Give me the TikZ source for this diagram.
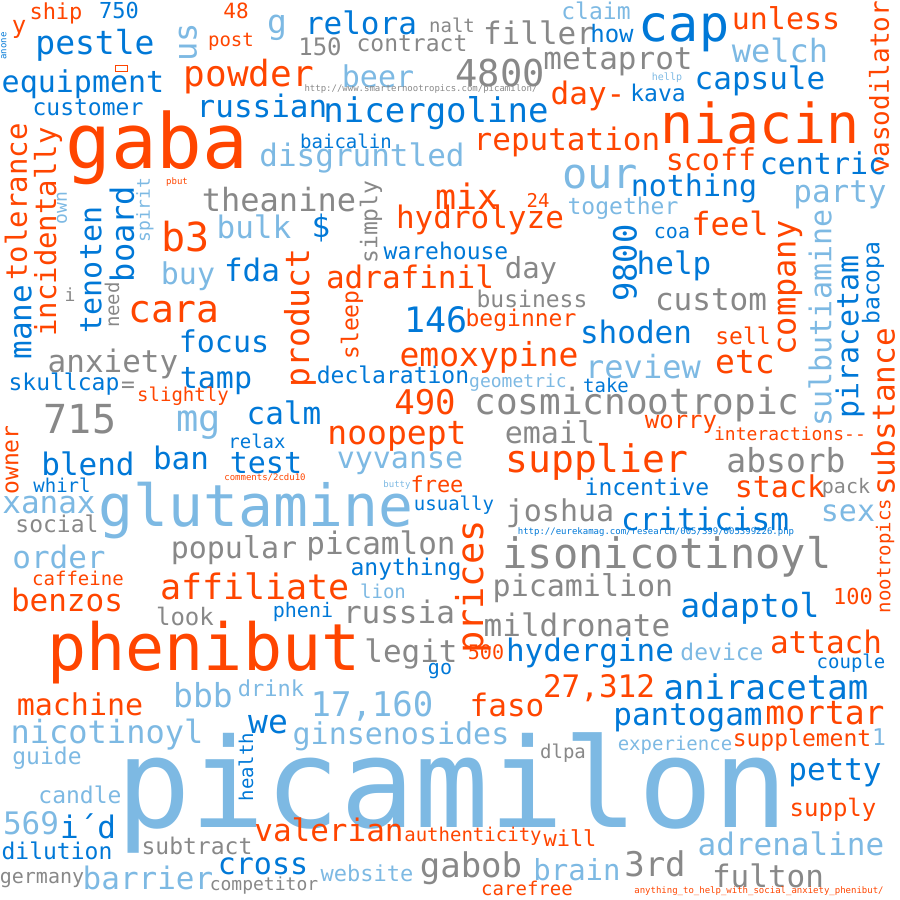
\documentclass[tikz,border=0pt]{standalone}
\usepackage{fontspec}
\setmainfont{DejaVu Sans Mono}
\usepackage{tikz}
\definecolor{wcorange}{HTML}{FF4500}
\definecolor{wcblue}{HTML}{0078D7}
\definecolor{wclight}{HTML}{7DB9E3}
\definecolor{wcgray}{HTML}{888888}
\newcommand{\fs}[1]{\fontsize{#1}{#1}\selectfont}

\begin{document}
\begin{tikzpicture}[x=1pt, y=-1pt,
    every node/.style={inner sep=0pt, outer sep=0pt},
    o/.style={text=wcorange}, b/.style={text=wcblue},
    lb/.style={text=wclight}, g/.style={text=wcgray},
    up/.style={rotate=90}]
         \useasboundingbox (0,0) rectangle (900,900);
         \node[o, font=\fs{22}] (ship) at (56,13) {ship};
         \node[b, font=\fs{22}] (n750) at (119,10) {750};
         \node[o, font=\fs{21}] (n48) at (236,11) {48};
         \node[o, font=\fs{24}] (y) at (19,29) {y};
         \node[b, up, font=\fs{9}] (anone) at (4,46) {anone};
         \node[b, font=\fs{33}] (pestle) at (95,45) {pestle};
         \node[lb, up, font=\fs{32}] (us) at (188,42) {us};
         \node[lb, font=\fs{33}] (g) at (277,28) {g};
         \node[o, font=\fs{19}] (post) at (231,42) {post};
         \draw[wcorange, line width=0.6pt] (115,65) rectangle (127,71);
         \node[o, font=\fs{36}] (powder) at (249,77) {powder};
         \node[b, font=\fs{30}] (equipment) at (83,84) {equipment};
         \node[b, font=\fs{23}] (customer) at (88,108) {customer};
         \node[b, font=\fs{31}] (russian) at (262,106) {russian};
         \node[o, font=\fs{76}] (gaba) at (157,148) {gaba};
         \node[o, up, font=\fs{29}] (tolerance) at (16,202) {tolerance};
         \node[o, up, font=\fs{29}] (incidentally) at (48,232) {incidentally};
         \node[b, up, font=\fs{31}] (mane) at (23,322) {mane};
         \node[b, up, font=\fs{30}] (tenoten) at (91,270) {tenoten};
         \node[b, up, font=\fs{32}] (board) at (122,234) {board};
         \node[lb, up, font=\fs{18}] (own) at (62,208) {own};
         \node[lb, up, font=\fs{18}] (spirit) at (145,210) {spirit};
         \node[o, font=\fs{9}] (pbut) at (177,182) {pbut};
         \node[g, font=\fs{32}] (theanine) at (279,200) {theanine};
         \node[lb, font=\fs{31}] (disgruntled) at (362,158) {disgruntled};
         \node[o, font=\fs{40}] (b3) at (186,237) {b3};
         \node[lb, font=\fs{31}] (bulk) at (254,227) {bulk};
         \node[b, font=\fs{31}] (dollar) at (321,228) {\$};
         \node[lb, font=\fs{30}] (buy) at (188,276) {buy};
         \node[b, font=\fs{31}] (fda) at (252,270) {fda};
         \node[o, up, font=\fs{33}] (product) at (300,318) {product};
         \node[g, font=\fs{18}] (i) at (70,295) {i};
         \node[g, up, font=\fs{19}] (need) at (112,305) {need};

         \node[b, font=\fs{31}] (relora) at (361,23) {relora};
         \node[g, font=\fs{19}] (nalt) at (452,25) {nalt};
         \node[g, font=\fs{24}] (n150) at (320,47) {150};
         \node[g, font=\fs{23}] (contract) at (412,44) {contract};
         \node[g, font=\fs{31}] (filler) at (539,33) {filler};
         \node[b, font=\fs{24}] (how) at (612,34) {how};
         \node[lb, font=\fs{23}] (claim) at (596,11) {claim};
         \node[lb, font=\fs{30}] (beer) at (378,76) {beer};
         \node[g, font=\fs{37}] (n4800) at (500,73) {4800};
         \node[g, font=\fs{31}] (metaprot) at (618,62) {metaprot};
         \node[g, font=\fs{9}] (url1) at (421,89) {http://www.smarternootropics.com/picamilon/};
         \node[b, font=\fs{34}] (nicergoline) at (436,113) {nicergoline};
         \node[o, font=\fs{31}] (dayminus) at (588,96) {day-};
         \node[b, font=\fs{19}] (baicalin) at (346,141) {baicalin};
         \node[o, font=\fs{31}] (reputation) at (567,142) {reputation};
         \node[lb, font=\fs{42}] (our) at (600,177) {our};
         \node[o, font=\fs{35}] (mix) at (467,196) {mix};
         \node[o, font=\fs{19}] (n24) at (538,200) {24};
         \node[lb, font=\fs{23}] (together) at (623,208) {together};
         \node[o, font=\fs{31}] (hydrolyze) at (480,220) {hydrolyze};
         \node[g, up, font=\fs{23}] (simply) at (371,222) {simply};
         \node[b, font=\fs{23}] (warehouse) at (446,251) {warehouse};
         \node[o, font=\fs{31}] (adrafinil) at (410,277) {adrafinil};
         \node[g, font=\fs{29}] (day) at (531,270) {day};
         \node[g, font=\fs{23}] (business) at (532,299) {business};

         \node[b, font=\fs{50}] (cap) at (684,33) {cap};
         \node[o, font=\fs{30}] (unless) at (786,18) {unless};
         \node[lb, font=\fs{32}] (welch) at (780,50) {welch};
         \node[lb, font=\fs{10}] (hellp) at (667,78) {hellp};
         \node[b, font=\fs{23}] (kava) at (658,93) {kava};
         \node[b, font=\fs{31}] (capsule) at (760,81) {capsule};
         \node[o, font=\fs{55}] (niacin) at (760,123) {niacin};
         \node[o, up, font=\fs{26}] (vasodilator) at (879,87) {vasodilator};
         \node[o, font=\fs{30}] (scoff) at (711,159) {scoff};
         \node[b, font=\fs{30}] (centric) at (823,163) {centric};
         \node[b, font=\fs{30}] (nothing) at (694,188) {nothing};
         \node[lb, font=\fs{31}] (party) at (840,195) {party};
         \node[o, font=\fs{32}] (feel) at (730,223) {feel};
         \node[b, font=\fs{20}] (coa) at (672,233) {coa};
         \node[b, up, font=\fs{32}] (n9800) at (625,263) {9800};
         \node[b, font=\fs{31}] (help) at (674,266) {help};
         \node[o, up, font=\fs{32}] (company) at (790,288) {company};
         \node[lb, up, font=\fs{30}] (sulbutiamine) at (820,318) {sulbutiamine};
         \node[b, up, font=\fs{30}] (piracetam) at (850,337) {piracetam};
         \node[b, up, font=\fs{23}] (bacopa) at (873,283) {bacopa};
         \node[g, font=\fs{31}] (custom) at (711,300) {custom};

         \node[o, font=\fs{38}] (cara) at (174,312) {cara};
         \node[b, font=\fs{30}] (focus) at (224,341) {focus};
         \node[g, font=\fs{31}] (anxiety) at (113,364) {anxiety};
         \node[b, font=\fs{23}] (skullcap) at (64,384) {skullcap};
         \node[g, font=\fs{23}] (equals) at (128,387) {=};
         \node[b, font=\fs{30}] (tamp) at (216,381) {tamp};
         \node[o, font=\fs{19}] (slightly) at (183,396) {slightly};
         \node[g, font=\fs{40}] (n715) at (80,419) {715};
         \node[lb, font=\fs{37}] (mg) at (199,425) {mg};
         \node[b, font=\fs{31}] (calm) at (284,413) {calm};
         \node[b, font=\fs{19}] (relax) at (257,441) {relax};
         \node[o, up, font=\fs{23}] (owner) at (12,460) {owner};
         \node[b, font=\fs{31}] (blend) at (88,464) {blend};
         \node[b, font=\fs{31}] (ban) at (181,458) {ban};
         \node[b, font=\fs{30}] (test) at (266,463) {test};
         \node[o, font=\fs{9}] (comments) at (265,477) {comments/2cdu10};
         \node[b, font=\fs{19}] (whirl) at (62,485) {whirl};
         \node[lb, font=\fs{31}] (xanax) at (49,505) {xanax};
         \node[lb, font=\fs{58}] (glutamine) at (256,511) {glutamine};
         \node[g, font=\fs{23}] (social) at (57,524) {social};
         \node[g, font=\fs{30}] (popular) at (234,550) {popular};
         \node[lb, font=\fs{31}] (order) at (59,557) {order};
         \node[o, font=\fs{19}] (caffeine) at (78,578) {caffeine};
         \node[o, font=\fs{35}] (affiliate) at (255,586) {affiliate};
         \node[o, font=\fs{31}] (benzos) at (67,600) {benzos};

         \node[b, font=\fs{35}] (n146) at (436,320) {146};
         \node[o, font=\fs{23}] (beginner) at (521,320) {beginner};
         \node[o, up, font=\fs{23}] (sleep) at (352,325) {sleep};
         \node[o, font=\fs{33}] (emoxypine) at (489,357) {emoxypine};
         \node[b, font=\fs{23}] (declaration) at (393,375) {declaration};
         \node[lb, font=\fs{18}] (geometric) at (518,383) {geometric};
         \node[o, font=\fs{34}] (n490) at (425,402) {490};
         \node[o, font=\fs{33}] (noopept) at (397,436) {noopept};
         \node[lb, font=\fs{30}] (vyvanse) at (400,463) {vyvanse};
         \node[lb, font=\fs{9}] (butty) at (397,485) {butty};
         \node[o, font=\fs{22}] (free) at (437,484) {free};
         \node[b, font=\fs{19}] (usually) at (454,505) {usually};
         \node[g, font=\fs{31}] (picamlon) at (381,546) {picamlon};
         \node[b, font=\fs{23}] (anything) at (406,569) {anything};
         \node[lb, font=\fs{19}] (lion) at (383,591) {lion};
         \node[o, up, font=\fs{37}] (prices) at (473,587) {prices};
         \node[g, font=\fs{36}] (cosmicnootropic) at (637,405) {cosmicnootropic};
         \node[g, font=\fs{30}] (email) at (550,432) {email};
         \node[o, font=\fs{38}] (supplier) at (597,462) {supplier};
         \node[g, font=\fs{30}] (joshua) at (560,513) {joshua};
         \node[b, font=\fs{9}] (url2) at (656,532) {http://eurekamag.com/research/005/399/005399226.php};
         \node[g, font=\fs{42}] (isonicotinoyl) at (667,557) {isonicotinoyl};
         \node[g, font=\fs{30}] (picamilion) at (583,588) {picamilion};

         \node[b, font=\fs{31}] (shoden) at (636,332) {shoden};
         \node[o, font=\fs{23}] (sell) at (743,336) {sell};
         \node[o, font=\fs{33}] (etc) at (745,362) {etc};
         \node[lb, font=\fs{32}] (review) at (643,367) {review};
         \node[b, font=\fs{19}] (take) at (606,385) {take};
         \node[o, font=\fs{24}] (worry) at (681,424) {worry};
         \node[o, font=\fs{18}] (interactions) at (790,434) {interactions-{}-};
         \node[g, font=\fs{33}] (absorb) at (786,460) {absorb};
         \node[o, font=\fs{30}] (stack) at (780,486) {stack};
         \node[g, font=\fs{20}] (pack) at (846,488) {pack};
         \node[b, font=\fs{23}] (incentive) at (647,487) {incentive};
         \node[b, font=\fs{31}] (criticism) at (705,519) {criticism};
         \node[lb, font=\fs{30}] (sex) at (848,513) {sex};
         \node[o, up, font=\fs{31}] (substance) at (883,412) {substance};
         \node[o, up, font=\fs{19}] (nootropics) at (885,556) {nootropics};
         \node[o, font=\fs{22}] (n100) at (853,596) {100};

         \node[o, font=\fs{65}] (phenibut) at (204,653) {phenibut};
         \node[g, font=\fs{24}] (look) at (185,616) {look};
         \node[b, font=\fs{20}] (pheni) at (303,612) {pheni};
         \node[o, font=\fs{30}] (machine) at (80,704) {machine};
         \node[lb, font=\fs{33}] (bbb) at (203,695) {bbb};
         \node[lb, font=\fs{22}] (drink) at (271,688) {drink};
         \node[lb, font=\fs{32}] (nicotinoyl) at (107,735) {nicotinoyl};
         \node[b, font=\fs{33}] (we) at (268,724) {we};
         \node[lb, font=\fs{23}] (guide) at (47,758) {guide};
         \node[b, up, font=\fs{19}] (health) at (246,767) {health};
         \node[lb, font=\fs{23}] (candle) at (80,795) {candle};
         \node[lb, font=\fs{31}] (n569) at (31,823) {569};
         \node[b, font=\fs{31}] (id) at (88,826) {i´d};
         \node[b, font=\fs{23}] (dilution) at (57,851) {dilution};
         \node[g, font=\fs{20}] (germany) at (42,880) {germany};
         \node[lb, font=\fs{31}] (barrier) at (148,878) {barrier};
         \node[g, font=\fs{23}] (subtract) at (197,846) {subtract};
         \node[g, font=\fs{18}] (competitor) at (264,886) {competitor};
         \node[b, font=\fs{30}] (cross) at (263,866) {cross};
         \node[lb, font=\fs{124}] (picamilon) at (452,793) {picamilon};

         \node[g, font=\fs{31}] (russia) at (399,612) {russia};
         \node[g, font=\fs{31}] (legit) at (411,654) {legit};
         \node[b, font=\fs{20}] (go) at (440,671) {go};
         \node[o, font=\fs{20}] (n500) at (486,652) {500};
         \node[g, font=\fs{31}] (mildronate) at (577,625) {mildronate};
         \node[b, font=\fs{31}] (hydergine) at (590,653) {hydergine};
         \node[lb, font=\fs{34}] (n17160) at (372,706) {17,160};
         \node[o, font=\fs{31}] (faso) at (507,705) {faso};
         \node[o, font=\fs{31}] (n27312) at (599,688) {27,312};
         \node[lb, font=\fs{30}] (ginsenosides) at (401,736) {ginsenosides};
         \node[g, font=\fs{19}] (dlpa) at (563,753) {dlpa};
         \node[o, font=\fs{31}] (valerian) at (329,830) {valerian};
         \node[o, font=\fs{19}] (authenticity) at (473,836) {authenticity};
         \node[o, font=\fs{22}] (will) at (570,838) {will};
         \node[g, font=\fs{34}] (gabob) at (471,868) {gabob};
         \node[lb, font=\fs{22}] (website) at (367,873) {website};
         \node[lb, font=\fs{29}] (brain) at (577,870) {brain};
         \node[o, font=\fs{19}] (carefree) at (527,888) {carefree};

         \node[b, font=\fs{33}] (adaptol) at (750,608) {adaptol};
         \node[o, font=\fs{31}] (attach) at (826,642) {attach};
         \node[lb, font=\fs{23}] (device) at (722,652) {device};
         \node[b, font=\fs{19}] (couple) at (851,663) {couple};
         \node[b, font=\fs{34}] (aniracetam) at (766,687) {aniracetam};
         \node[b, font=\fs{31}] (pantogam) at (688,718) {pantogam};
         \node[o, font=\fs{33}] (mortar) at (825,713) {mortar};
         \node[o, font=\fs{23}] (supplement) at (802,740) {supplement};
         \node[lb, font=\fs{23}] (one) at (879,737) {1};
         \node[lb, font=\fs{19}] (experience) at (675,745) {experience};
         \node[b, font=\fs{31}] (petty) at (835,773) {petty};
         \node[o, font=\fs{24}] (supply) at (833,810) {supply};
         \node[lb, font=\fs{31}] (adrenaline) at (791,844) {adrenaline};
         \node[g, font=\fs{34}] (third) at (655,864) {3rd};
         \node[g, font=\fs{31}] (fulton) at (768,876) {fulton};
         \node[o, font=\fs{9}] (url3) at (759,891) {anything\_to\_help\_with\_social\_anxiety\_phenibut/};
    \end{tikzpicture}
\end{document}
